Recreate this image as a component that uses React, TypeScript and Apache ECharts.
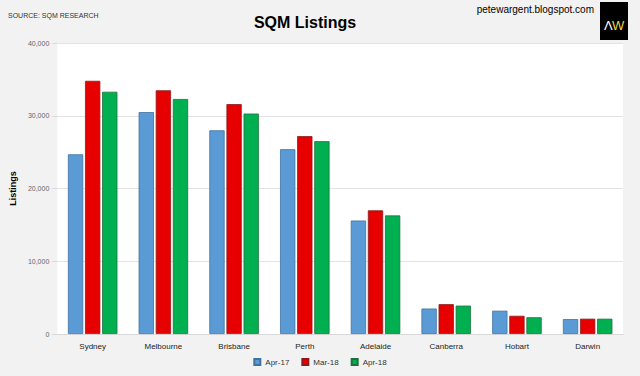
import React, { useEffect, useRef } from "react";
import * as echarts from "echarts";

const categories = ["Sydney", "Melbourne", "Brisbane", "Perth", "Adelaide", "Canberra", "Hobart", "Darwin"];
const seriesNames = ["Apr-17", "Mar-18", "Apr-18"];
const apr17 = [24700, 30500, 28000, 25400, 15600, 3500, 3200, 2050];
const mar18 = [34800, 33500, 31600, 27200, 17000, 4100, 2500, 2100];
const apr18 = [33300, 32300, 30300, 26500, 16300, 3900, 2300, 2100];
const colors = ["#5b9bd5", "#e60000", "#00b050"];
const borders = ["#41729f", "#8c1a1a", "#1f6e3c"];

const FONT = "Liberation Sans, Arial, sans-serif";

export default function App() {
  const ref = useRef<HTMLDivElement>(null);
  useEffect(() => {
    if (!ref.current) return;
    const chart = echarts.init(ref.current, null, { renderer: "svg" });
    const data = [apr17, mar18, apr18];
    chart.setOption({
      animation: false,
      backgroundColor: "#f2f2f2",
      textStyle: { fontFamily: FONT },
      title: {
        text: "SQM Listings",
        left: 300,
        top: 9,
        textAlign: "center",
        textStyle: { fontSize: 16, fontWeight: "bold", color: "#000", fontFamily: FONT },
      },
      graphic: [
        { type: "text", left: 8, top: 12, style: { text: "SOURCE: SQM RESEARCH", fontSize: 7, fill: "#333", fontFamily: FONT } },
        { type: "text", right: 46, top: 4, style: { text: "petewargent.blogspot.com", fontSize: 10, fill: "#000", fontFamily: FONT } },
        { type: "rect", shape: { x: 600, y: 2, width: 28, height: 38 }, style: { fill: "#000" } },
        { type: "text", x: 604, y: 19, style: { text: "Λ", fontSize: 13, fill: "#fff", fontFamily: FONT } },
        { type: "text", x: 612, y: 19, style: { text: "W", fontSize: 13, fill: "#e8d44d", fontFamily: FONT } },
      ],
      legend: {
        bottom: 5,
        left: "center",
        itemWidth: 6,
        itemHeight: 6,
        itemGap: 12,
        icon: "rect",
        textStyle: { fontSize: 8, color: "#333", fontFamily: FONT },
        data: seriesNames,
      },
      grid: {
        left: 57,
        right: 17,
        top: 43,
        bottom: 42,
        show: true,
        backgroundColor: "#fff",
        borderWidth: 0,
      },
      xAxis: {
        type: "category",
        data: categories,
        axisTick: { show: false },
        axisLine: { show: true, lineStyle: { color: "#d9d9d9" } },
        axisLabel: { fontSize: 8, color: "#222", margin: 8, fontFamily: FONT },
      },
      yAxis: {
        type: "value",
        min: 0,
        max: 40000,
        interval: 10000,
        name: "Listings",
        nameLocation: "middle",
        nameGap: 40,
        nameTextStyle: { fontSize: 9, fontWeight: "bold", color: "#000", fontFamily: FONT },
        axisLabel: {
          fontSize: 7,
          color: "#666",
          margin: 8,
          formatter: (v: number) => v.toLocaleString("en-US"),
        },
        axisTick: { show: true, length: 5, lineStyle: { color: "#d9d9d9" } },
        axisLine: { show: false },
        splitLine: { lineStyle: { color: "#e3e3e3" } },
      },
      series: seriesNames.map((name, i) => ({
        name,
        type: "bar",
        data: data[i],
        barGap: "12%",
        barCategoryGap: "30%",
        itemStyle: { color: colors[i], borderColor: borders[i], borderWidth: 0.8 },
      })),
    });
    return () => chart.dispose();
  }, []);
  return <div ref={ref} style={{ width: 640, height: 376, position: "absolute", left: 0, top: 0 }} />;
}
